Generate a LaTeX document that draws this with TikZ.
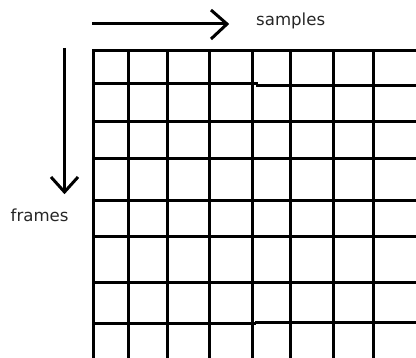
\documentclass[tikz,border=0pt]{standalone}
\usepackage{fontspec}
\setmainfont{DejaVu Sans}
\begin{document}
\begin{tikzpicture}[x=1pt,y=-1pt,
  gridline/.style={line width=3pt, line cap=rect, black},
  axisline/.style={line width=3pt, black},
  axislabel/.style={font=\fontsize{16.6}{16.6}\selectfont, text=black!85, inner sep=0pt, anchor=base west}]
\useasboundingbox (0,0) rectangle (416,358);
\clip (0,0) rectangle (416,358);

% axis arrows
\coordinate (hs) at (92,24);
\coordinate (he) at (226,24);
\coordinate (hu) at (211,10);
\coordinate (hd) at (211,39);
\draw[axisline] (hs) -- (he);
\draw[axisline, line join=miter] (hu) -- (227,24) -- (hd);

\coordinate (vs) at (64,48);
\coordinate (ve) at (64,190);
\coordinate (vl) at (51,177);
\coordinate (vr) at (78,177);
\draw[axisline] (vs) -- (ve);
\draw[axisline, line join=miter] (vl) -- (64.5,192) -- (vr);

\node[axislabel] (samples) at (256,25.5) {samples};
\node[axislabel] (frames) at (10.5,222) {frames};

% grid: vertical lines
\foreach \x in {93,128,167,209,252,290.5,333,373.5}
  \draw[gridline] (\x,50.5) -- (\x,362);

% grid: horizontal lines
\foreach \y in {50.5,121.5,159,201,237,283}
  \draw[gridline] (93,\y) -- (420,\y);
% two rows with a small offset midway
\draw[gridline] (93,83.5) -- (256,83.5);
\draw[gridline] (257,85.3) -- (420,85.3);
\draw[gridline] (93,324) -- (254,324);
\draw[gridline] (256,322.5) -- (420,322.5);
\end{tikzpicture}
\end{document}
